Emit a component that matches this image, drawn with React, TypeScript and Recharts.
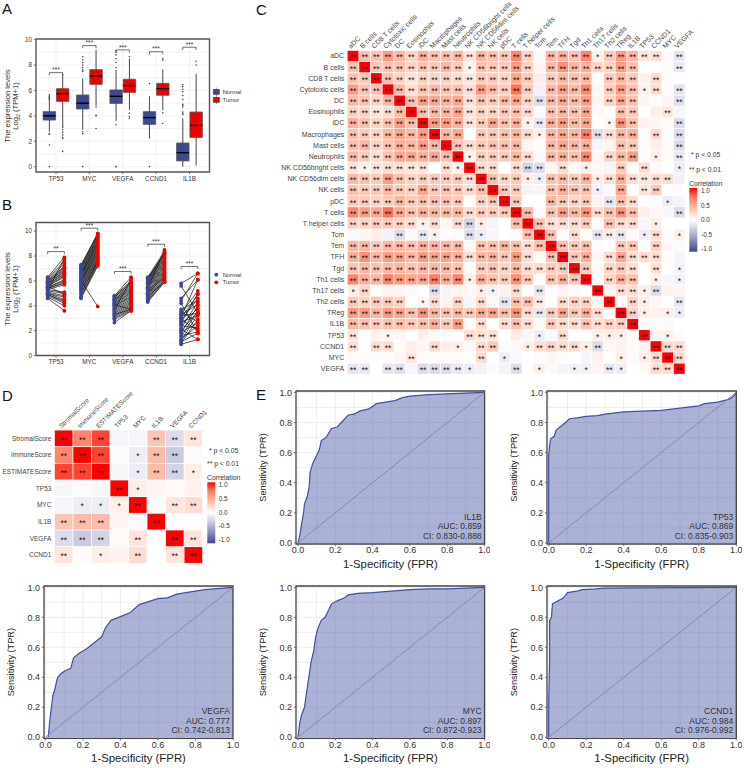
import {
  Area,
  CartesianGrid,
  ComposedChart,
  Line,
  ReferenceArea,
  ReferenceLine,
  Scatter,
  XAxis,
  YAxis,
} from 'recharts'

const FONT = '"Liberation Sans", Arial, sans-serif'
const BLUE = '#3b4992'
const RED = '#ee0000'

// panel A: boxplot summaries, order follows boxGenes
const boxGenes = ['TP53', 'MYC', 'VEGFA', 'CCND1', 'IL1B']
const normalLow = [2.75, 2.9, 3.6, 2.2, 0]
const normalQ1 = [3.67, 4.54, 4.98, 3.33, 0.45]
const normalMedian = [4.0, 5.0, 5.54, 3.86, 1.1]
const normalQ3 = [4.33, 5.64, 6.04, 4.33, 1.86]
const normalHigh = [5.6, 6.95, 7.6, 5.55, 3.8]
const tumorLow = [3.65, 4.8, 4.45, 4.45, 0.1]
const tumorQ1 = [5.14, 6.48, 5.85, 5.62, 2.3]
const tumorMedian = [5.75, 7.14, 6.38, 6.14, 3.25]
const tumorQ3 = [6.14, 7.64, 6.88, 6.56, 4.3]
const tumorHigh = [7.3, 9.2, 8.5, 7.65, 7.3]
const normalOutliers = [
  [5.65, 5.5, 5.4, 5.3, 2.6, 2.55, 1.7, 0],
  [8.65, 8.4, 8.2, 8.0, 7.8, 7.6, 7.5, 2.75, 2.6, 0],
  [7.8, 8.2, 8.5, 8.8, 9.0, 9.1, 3.3, 0],
  [6.55, 0],
  [4.1, 4.2, 4.3, 4.7, 4.8, 4.9, 5.3, 5.6, 5.9, 6.1, 6.3, 6.45],
]
const tumorOutliers = [
  [3.6, 3.45, 3.3, 3.2, 3.1, 2.9, 2.7, 2.5, 2.3, 2.2, 1.2],
  [4.7, 4.05, 4.0, 3.0],
  [8.65, 4.2, 3.95, 3.8],
  [8.4, 8.5, 4.25, 3.4],
  [8.0, 8.3],
]
const boxSigHeights = [7.4, 9.53, 9.19, 9.05, 9.4]
const boxSigLabels = ['***', '***', '***', '***', '***']

// panel B: paired samples, one list per gene
const pairedNormal = [
  [4.6, 4.7, 4.8, 4.9, 5.0, 5.0, 5.1, 5.2, 5.3, 5.3, 5.4, 5.4, 5.5, 5.5, 5.6, 5.6, 5.7, 5.7, 5.8, 5.8, 5.9, 5.9, 6.0, 6.0, 6.1, 6.2, 6.3, 5.2, 4.9, 5.6],
  [4.6, 4.7, 4.8, 5.0, 5.2, 5.3, 5.4, 5.5, 5.6, 5.7, 5.8, 5.9, 6.0, 6.0, 6.1, 6.2, 6.3, 6.4, 6.5, 6.5, 6.6, 6.7, 6.8, 6.9, 7.0, 7.1, 7.2, 7.3, 6.0, 5.0],
  [2.65, 2.9, 3.0, 3.1, 3.2, 3.3, 3.4, 3.5, 3.6, 3.7, 3.8, 3.9, 4.0, 4.0, 4.1, 4.2, 4.2, 4.3, 4.4, 4.4, 4.5, 4.5, 4.6, 4.7, 4.7, 4.8, 4.8, 3.6, 3.3, 4.1],
  [4.3, 4.4, 4.5, 4.6, 4.7, 4.8, 4.9, 5.0, 5.1, 5.1, 5.2, 5.3, 5.4, 5.5, 5.5, 5.6, 5.7, 5.8, 5.8, 5.9, 6.0, 6.0, 6.1, 6.2, 6.2, 6.3, 5.4, 4.7, 6.1, 5.0],
  [0.9, 1.0, 1.1, 1.2, 1.3, 1.5, 1.6, 1.8, 1.9, 2.0, 2.1, 2.2, 2.4, 2.5, 2.6, 2.7, 2.8, 2.9, 3.0, 3.1, 3.2, 3.3, 3.4, 3.5, 3.7, 4.2, 4.4, 4.6, 5.6, 5.8],
]
const pairedTumor = [
  [3.6, 4.0, 4.2, 4.4, 4.5, 4.7, 4.8, 5.0, 5.1, 5.7, 5.8, 5.9, 6.0, 6.1, 6.3, 6.4, 6.5, 6.6, 6.7, 6.8, 6.9, 7.0, 7.1, 7.2, 7.4, 7.6, 7.9, 7.8, 4.3, 4.9],
  [7.2, 7.3, 7.4, 7.5, 7.6, 7.7, 7.8, 7.9, 8.0, 8.1, 8.2, 8.3, 8.4, 8.5, 8.6, 8.7, 8.8, 8.9, 9.0, 9.1, 9.2, 9.3, 9.4, 9.5, 9.6, 9.7, 9.8, 9.8, 3.95, 7.6],
  [3.6, 3.6, 3.7, 3.8, 3.9, 4.0, 4.1, 4.2, 4.3, 4.4, 4.5, 4.6, 4.7, 4.8, 4.9, 5.0, 5.1, 5.2, 5.3, 5.4, 5.5, 5.6, 5.7, 5.8, 5.9, 6.0, 6.3, 6.2, 3.7, 3.7],
  [5.9, 5.9, 6.0, 6.1, 6.2, 6.3, 6.4, 6.5, 6.6, 6.7, 6.8, 6.9, 7.0, 7.1, 7.2, 7.3, 7.4, 7.5, 7.6, 7.7, 7.8, 7.9, 8.0, 8.1, 8.2, 8.4, 8.5, 6.0, 8.3, 6.4],
  [1.3, 2.9, 1.8, 3.3, 2.4, 3.6, 1.9, 4.0, 2.6, 3.5, 1.3, 4.3, 2.2, 3.8, 5.0, 3.2, 4.6, 2.0, 4.9, 6.1, 3.4, 4.1, 5.2, 2.7, 4.4, 1.8, 6.6, 6.1, 3.4, 6.6],
]
const pairSigHeights = [8.36, 10.24, 6.76, 8.95, 7.16]
const pairSigLabels = ['**', '***', '***', '***', '***']

// panel C: lower triangle of the correlation matrix, in percent
const immuneLabels = [
  'aDC', 'B cells', 'CD8 T cells', 'Cytotoxic cells', 'DC', 'Eosinophils', 'iDC', 'Macrophages',
  'Mast cells', 'Neutrophils', 'NK CD56bright cells', 'NK CD56dim cells', 'NK cells', 'pDC',
  'T cells', 'T helper cells', 'Tcm', 'Tem', 'TFH', 'Tgd', 'Th1 cells', 'Th17 cells', 'Th2 cells',
  'TReg', 'IL1B', 'TP53', 'CCND1', 'MYC', 'VEGFA',
]
const immuneCorr = [
  [],
  [35],
  [35, 30],
  [55, 35, 35],
  [40, 35, 25, 40],
  [25, 25, 15, 20, 35],
  [45, 35, 25, 35, 55, 35],
  [35, 30, 25, 40, 50, 40, 55],
  [35, 40, 25, 35, 45, 40, 55, 40],
  [40, 30, 20, 35, 50, 50, 45, 50, 35],
  [15, 7, 15, 20, 17, 15, 15, 0, 20, 7],
  [40, 35, 30, 55, 35, 25, 30, 30, 30, 30, 20],
  [35, 30, 30, 40, 30, 25, 50, 30, 35, 30, 20, 35],
  [30, 30, 25, 30, 40, 30, 35, 35, 35, 30, 0, 25, 30],
  [65, 55, 50, 75, 50, 35, 45, 40, 40, 40, 20, 30, 30, 30],
  [25, 25, 30, 30, 25, 20, 7, 20, 5, 20, -25, 10, -6, 0, 35],
  [-3, 5, 10, -8, -20, -3, -13, 7, 2, -3, -20, -10, -5, 0, 3, 35],
  [40, 40, 30, 40, 40, 35, 45, 40, 40, 40, 5, 35, 35, 40, 35, 18, 35],
  [45, 60, 40, 55, 50, 40, 55, 50, 50, 45, 20, 40, 45, 30, 55, 18, 2, 35],
  [35, 40, 35, 40, 40, 35, 40, 40, 40, 35, 3, 30, 35, 25, 40, 20, 20, 30, 30],
  [65, 45, 40, 65, 55, 50, 50, 70, 45, 65, 10, 45, 35, 30, 60, 30, 2, 35, 45, 30],
  [10, 25, 2, 6, 5, 4, 0, -20, -5, 5, 5, 10, -8, 7, 20, -2, -15, -2, 5, -3, 0],
  [30, 25, 30, 30, 25, 0, 5, 20, 8, 25, -5, 20, -3, -15, 35, 35, 10, 0, 20, 25, 25, 5],
  [55, 55, 40, 55, 50, 35, 60, 40, 35, 40, 30, 45, 50, 35, 60, 20, -13, 30, 50, 30, 45, 20, 3],
  [40, 35, 30, 35, 35, 30, 35, 45, 30, 55, 3, 20, 0, 20, 35, 20, 3, 30, 20, 20, 35, 20, 25, 25],
  [15, 0, 8, 8, 5, 0, 7, -2, -3, 2, 20, 15, 15, 0, 10, -5, -10, -3, 20, 0, 0, 10, 10, 10, 3],
  [18, 0, 20, 20, 2, 10, 5, 20, 10, 10, 4, 20, 30, -2, 5, 10, 20, 25, 20, 20, 10, -20, 5, 7, 3, 7],
  [3, 3, 2, 2, 5, 15, 3, 2, 3, 3, 0, 20, 0, -10, -4, 0, -2, 5, 2, 0, -5, 7, 0, 10, -3, 10, 20],
  [-15, -13, 0, -15, -17, -5, -20, -20, -20, -13, -10, -8, -2, -7, -20, 0, 10, -3, -6, -8, -8, 5, -13, -10, 0, 3, 20, 20],
]
// 2 = **, 1 = *, 0 = nothing
const immuneStars = [
  '',
  '2',
  '22',
  '222',
  '2222',
  '22222',
  '222222',
  '2222222',
  '22222222',
  '222222222',
  '2122222021',
  '22222222222',
  '222222222222',
  '2222222222022',
  '22222222222222',
  '222222120221002',
  '0000202100210002',
  '22222222220222222',
  '222222222222222202',
  '2222222222022222222',
  '22222222221222220222',
  '120000020001102020000',
  '2222201202020222202220',
  '22222222222222222222220',
  '222222222202022202222222',
  '2001000000222000102001110',
  '20220002010220012222120000',
  '000002000002010000000001012',
  '2202202222100020100110210022',
]

// panel D: full matrix, in percent
const scoreLabels = ['StromalScore', 'ImmuneScore', 'ESTIMATEScore', 'TP53', 'MYC', 'IL1B', 'VEGFA', 'CCND1']
const scoreCorr = [
  [100, 65, 85, -5, -5, 33, -20, 15],
  [65, 100, 85, -2, -10, 38, -30, 2],
  [85, 85, 100, -4, -10, 38, -25, 10],
  [-5, -2, -4, 100, 10, 6, 3, 7],
  [-5, -10, -10, 10, 100, -3, 15, 20],
  [33, 38, 38, 6, -3, 100, 0, 0],
  [-20, -30, -25, 3, 15, 0, 100, 15],
  [15, 2, 10, 7, 20, 0, 15, 100],
]
const scoreStars = ['22200222', '22201220', '22201221', '00021000', '01112022', '22200200', '22202022', '20102022']

// panel E: ROC curves
const il1bFpr = [0, 0.01, 0.02, 0.03, 0.035, 0.05, 0.06, 0.065, 0.08, 0.1, 0.115, 0.125, 0.15, 0.18, 0.21, 0.24, 0.27, 0.3, 0.33, 0.38, 0.42, 0.47, 0.52, 0.56, 0.6, 0.7, 0.8, 0.9, 1]
const il1bTpr = [0, 0.05, 0.13, 0.2, 0.26, 0.31, 0.37, 0.47, 0.53, 0.58, 0.62, 0.68, 0.7, 0.76, 0.77, 0.81, 0.85, 0.855, 0.875, 0.89, 0.925, 0.935, 0.945, 0.965, 0.975, 0.985, 0.99, 0.995, 1]
const tp53Fpr = [0, 0, 0.005, 0.01, 0.03, 0.04, 0.06, 0.09, 0.11, 0.15, 0.2, 0.26, 0.3, 0.4, 0.5, 0.6, 0.7, 0.8, 0.83, 0.9, 0.95, 0.97, 0.99, 1]
const tp53Tpr = [0, 0.58, 0.64, 0.69, 0.71, 0.75, 0.77, 0.8, 0.825, 0.83, 0.84, 0.845, 0.855, 0.87, 0.875, 0.88, 0.895, 0.91, 0.925, 0.935, 0.95, 0.96, 0.98, 1]
const vegfaFpr = [0.015, 0.025, 0.04, 0.05, 0.065, 0.08, 0.1, 0.135, 0.15, 0.18, 0.22, 0.25, 0.28, 0.3, 0.32, 0.35, 0.4, 0.45, 0.5, 0.55, 0.6, 0.65, 0.7, 0.75, 0.8, 0.85, 0.9, 1]
const vegfaTpr = [0, 0.13, 0.28, 0.32, 0.4, 0.42, 0.44, 0.46, 0.53, 0.56, 0.59, 0.62, 0.65, 0.67, 0.73, 0.78, 0.805, 0.83, 0.885, 0.905, 0.925, 0.93, 0.955, 0.965, 0.975, 0.985, 0.99, 1]
const mycFpr = [0, 0.01, 0.02, 0.035, 0.05, 0.07, 0.085, 0.095, 0.105, 0.125, 0.145, 0.165, 0.18, 0.21, 0.25, 0.27, 0.32, 0.4, 0.5, 0.6, 0.7, 0.8, 0.9, 1]
const mycTpr = [0, 0.1, 0.15, 0.2, 0.33, 0.5, 0.58, 0.67, 0.72, 0.78, 0.8, 0.85, 0.89, 0.91, 0.93, 0.95, 0.96, 0.965, 0.975, 0.985, 0.99, 0.99, 0.995, 1]
const ccnd1Fpr = [0, 0, 0.005, 0.005, 0.015, 0.02, 0.05, 0.08, 0.1, 0.15, 0.18, 0.25, 0.3, 0.5, 1]
const ccnd1Tpr = [0, 0.23, 0.5, 0.78, 0.8, 0.89, 0.91, 0.93, 0.965, 0.975, 0.985, 0.99, 0.995, 0.997, 1]

const posStops = ['#ffffff', '#ffd2c4', '#ffa58e', '#ff7256', '#ff0000']
const negStops = ['#ffffff', '#d3d3e6', '#a5a8cc', '#7379b0', '#3b4992']

type Rect = { l: number; t: number; r: number; b: number }

function mix(a: string, b: string, f: number) {
  const parse = (s: string) => [1, 3, 5].map((i) => parseInt(s.slice(i, i + 2), 16))
  const pa = parse(a)
  const pb = parse(b)
  return `rgb(${pa.map((v, i) => Math.round(v + (pb[i] - v) * f)).join(',')})`
}

function corrColor(pct: number) {
  const stops = pct < 0 ? negStops : posStops
  const at = (Math.abs(pct) / 100) * (stops.length - 1)
  const i = Math.min(Math.floor(at), stops.length - 2)
  return mix(stops[i], stops[i + 1], at - i)
}

function marginsFor(box: Rect, plot: Rect, yW: number, xH: number, xTop = false) {
  return {
    top: plot.t - box.t - (xTop ? xH : 0),
    left: plot.l - box.l - yW,
    right: box.r - plot.r,
    bottom: box.b - plot.b - (xTop ? 0 : xH),
  }
}

function place(box: Rect) {
  return { position: 'absolute' as const, left: box.l, top: box.t }
}

const geneTick = { fontSize: 6.4, fill: '#333', fontFamily: FONT }

function dotShape(r: number, fill: string) {
  return (p: any) => <circle cx={p.cx} cy={p.cy} r={r} fill={fill} />
}

function starShape(size: number) {
  return (p: any) => (
    <text x={p.cx} y={p.cy} textAnchor="middle" fontSize={size} fontFamily={FONT} fill="#333">
      {p.payload.label}
    </text>
  )
}

function bracketLines(i: number, h: number, drop: number, half: number) {
  const c = i + 1
  return [
    <ReferenceLine key={`a${i}`} segment={[{ x: c - half, y: h }, { x: c + half, y: h }]} stroke="#333" strokeWidth={0.7} />,
    <ReferenceLine key={`b${i}`} segment={[{ x: c - half, y: h }, { x: c - half, y: h - drop }]} stroke="#333" strokeWidth={0.7} />,
    <ReferenceLine key={`c${i}`} segment={[{ x: c + half, y: h }, { x: c + half, y: h - drop }]} stroke="#333" strokeWidth={0.7} />,
  ]
}

function boxMarks(i: number, side: number, low: number, q1: number, med: number, q3: number, high: number, fill: string) {
  const x = i + 1 + side * 0.2
  const half = 0.186
  return [
    <ReferenceLine key={`w${i}${side}a`} segment={[{ x, y: low }, { x, y: q1 }]} stroke="#333" strokeWidth={0.9} />,
    <ReferenceLine key={`w${i}${side}b`} segment={[{ x, y: q3 }, { x, y: high }]} stroke="#333" strokeWidth={0.9} />,
    <ReferenceArea key={`b${i}${side}`} x1={x - half} x2={x + half} y1={q1} y2={q3} fill={fill} fillOpacity={1} stroke="#555" strokeWidth={0.8} />,
    <ReferenceLine key={`m${i}${side}`} segment={[{ x: x - half, y: med }, { x: x + half, y: med }]} stroke="#000" strokeWidth={1.4} />,
  ]
}

function BoxPanel() {
  const box = { l: 0, t: 30, r: 212, b: 192 }
  const plot = { l: 36, t: 39, r: 209.5, b: 172 }
  const side = (lists: number[][], sign: number) =>
    lists.flatMap((ys, i) => ys.map((y) => ({ x: i + 1 + sign * 0.2, y })))
  const stars = boxSigHeights.map((h, i) => ({ x: i + 1, y: h + 0.02, label: boxSigLabels[i] }))
  return (
    <div style={place(box)}>
      <ComposedChart
        width={box.r - box.l}
        height={box.b - box.t}
        margin={marginsFor(box, plot, 30, 18)}
      >
        <CartesianGrid
          stroke="#ececec"
          strokeWidth={0.7}
          horizontalValues={[0, 1, 2, 3, 4, 5, 6, 7, 8, 9, 10]}
          verticalValues={[1, 2, 3, 4, 5]}
        />
        <XAxis
          dataKey="x"
          type="number"
          domain={[0.4, 5.6]}
          ticks={[1, 2, 3, 4, 5]}
          interval={0}
          tickFormatter={(v: number) => boxGenes[v - 1]}
          tick={geneTick}
          tickSize={2}
          tickMargin={2}
          axisLine={false}
          height={18}
        />
        <YAxis
          dataKey="y"
          type="number"
          domain={[-0.42, 10.05]}
          ticks={[0, 2, 4, 6, 8, 10]}
          interval={0}
          tick={geneTick}
          tickSize={2}
          tickMargin={2}
          axisLine={false}
          width={30}
        />
        {boxGenes.flatMap((_, i) => [
          ...boxMarks(i, -1, normalLow[i], normalQ1[i], normalMedian[i], normalQ3[i], normalHigh[i], BLUE),
          ...boxMarks(i, 1, tumorLow[i], tumorQ1[i], tumorMedian[i], tumorQ3[i], tumorHigh[i], RED),
          ...bracketLines(i, boxSigHeights[i], 0.21, 0.2),
        ])}
        <Scatter data={side(normalOutliers, -1)} dataKey="y" shape={dotShape(0.8, '#444')} isAnimationActive={false} />
        <Scatter data={side(tumorOutliers, 1)} dataKey="y" shape={dotShape(0.8, '#444')} isAnimationActive={false} />
        <Scatter data={stars} dataKey="y" shape={starShape(6.5)} isAnimationActive={false} />
        <ReferenceArea x1={0.4} x2={5.6} y1={-0.42} y2={10.05} fill="none" stroke="#555" strokeWidth={1.4} />
      </ComposedChart>
    </div>
  )
}

function PairPanel() {
  const box = { l: 0, t: 214, r: 212, b: 376 }
  const plot = { l: 36, t: 222.5, r: 209.5, b: 355.5 }
  const segments = pairedNormal.flatMap((ys, g) =>
    ys.flatMap((y, k) => [
      { x: g + 0.75, y },
      { x: g + 1.25, y: pairedTumor[g][k] },
      { x: g + 1.25, y: null },
    ]),
  )
  const normals = pairedNormal.flatMap((ys, g) => ys.map((y) => ({ x: g + 0.75, y })))
  const tumors = pairedTumor.flatMap((ys, g) => ys.map((y) => ({ x: g + 1.25, y })))
  const stars = pairSigHeights.map((h, i) => ({ x: i + 1, y: h + 0.02, label: pairSigLabels[i] }))
  return (
    <div style={place(box)}>
      <ComposedChart
        width={box.r - box.l}
        height={box.b - box.t}
        margin={marginsFor(box, plot, 30, 18)}
      >
        <CartesianGrid
          stroke="#ececec"
          strokeWidth={0.7}
          horizontalValues={[0, 1, 2, 3, 4, 5, 6, 7, 8, 9, 10]}
          verticalValues={[1, 2, 3, 4, 5]}
        />
        <XAxis
          dataKey="x"
          type="number"
          domain={[0.4, 5.6]}
          ticks={[1, 2, 3, 4, 5]}
          interval={0}
          tickFormatter={(v: number) => boxGenes[v - 1]}
          tick={geneTick}
          tickSize={2}
          tickMargin={2}
          axisLine={false}
          height={18}
        />
        <YAxis
          dataKey="y"
          type="number"
          domain={[0, 10.7]}
          ticks={[0, 2, 4, 6, 8, 10]}
          interval={0}
          tick={geneTick}
          tickSize={2}
          tickMargin={2}
          axisLine={false}
          width={30}
        />
        <Line
          data={segments}
          dataKey="y"
          type="linear"
          stroke="#111"
          strokeWidth={0.7}
          dot={false}
          connectNulls={false}
          isAnimationActive={false}
        />
        <Scatter data={normals} dataKey="y" shape={dotShape(1.9, BLUE)} isAnimationActive={false} />
        <Scatter data={tumors} dataKey="y" shape={dotShape(1.9, RED)} isAnimationActive={false} />
        {pairSigHeights.flatMap((h, i) => bracketLines(i, h, 0.2, 0.25))}
        <Scatter data={stars} dataKey="y" shape={starShape(6.5)} isAnimationActive={false} />
        <ReferenceArea x1={0.4} x2={5.6} y1={0} y2={10.7} fill="none" stroke="#555" strokeWidth={1.4} />
      </ComposedChart>
    </div>
  )
}

type HeatProps = {
  labels: string[]
  cells: { x: number; y: number; v: number; s: number }[]
  box: Rect
  plot: Rect
  fontSize: number
  starSize: number
  yW: number
  xH: number
}

function HeatMap({ labels, cells, box, plot, fontSize, starSize, yW, xH }: HeatProps) {
  const n = labels.length
  const cw = (plot.r - plot.l) / n
  const ch = (plot.b - plot.t) / n
  const ticks = labels.map((_, i) => i)
  const cellShape = (p: any) => {
    const { v, s } = p.payload
    return (
      <g>
        <rect x={p.cx - cw / 2 + 0.4} y={p.cy - ch / 2 + 0.4} width={cw - 0.8} height={ch - 0.8} fill={corrColor(v)} />
        {s > 0 ? (
          <text x={p.cx} y={p.cy + starSize * 0.52} textAnchor="middle" fontSize={starSize} fontFamily={FONT} fill="#111">
            {s === 2 ? '**' : '*'}
          </text>
        ) : null}
      </g>
    )
  }
  const topTick = (p: any) => (
    <text
      x={p.x - 2}
      y={p.y - 1.5}
      transform={`rotate(-45 ${p.x - 2} ${p.y - 1.5})`}
      fontSize={fontSize}
      fontFamily={FONT}
      fill="#444"
    >
      {labels[p.payload.value]}
    </text>
  )
  const leftTick = (p: any) => (
    <text x={p.x - 3} y={p.y + fontSize * 0.35} textAnchor="end" fontSize={fontSize} fontFamily={FONT} fill="#444">
      {labels[p.payload.value]}
    </text>
  )
  return (
    <div style={place(box)}>
      <ComposedChart
        width={box.r - box.l}
        height={box.b - box.t}
        margin={marginsFor(box, plot, yW, xH, true)}
      >
        <XAxis
          dataKey="x"
          type="number"
          orientation="top"
          domain={[-0.5, n - 0.5]}
          ticks={ticks}
          interval={0}
          tick={topTick}
          tickSize={0}
          tickMargin={0}
          tickLine={false}
          axisLine={false}
          height={xH}
        />
        <YAxis
          dataKey="y"
          type="number"
          reversed
          domain={[-0.5, n - 0.5]}
          ticks={ticks}
          interval={0}
          tick={leftTick}
          tickSize={0}
          tickMargin={0}
          tickLine={false}
          axisLine={false}
          width={yW}
        />
        <Scatter data={cells} dataKey="y" shape={cellShape} isAnimationActive={false} />
      </ComposedChart>
    </div>
  )
}

type RocProps = {
  name: string
  fpr: number[]
  tpr: number[]
  auc: string
  ci: string
  plot: Rect
  xMin: number
}

function RocPanel({ name, fpr, tpr, auc, ci, plot, xMin }: RocProps) {
  const box = { l: plot.l - 42, t: plot.t - 6, r: plot.r + 6, b: plot.b + 26 }
  const data = fpr.map((x, i) => ({ fpr: x, tpr: tpr[i] }))
  const gridValues = [0, 0.1, 0.2, 0.3, 0.4, 0.5, 0.6, 0.7, 0.8, 0.9, 1]
  const tickValues = [0, 0.2, 0.4, 0.6, 0.8, 1]
  const yMin = -0.007
  const yMax = 1.009
  return (
    <div style={place(box)}>
      <ComposedChart
        width={box.r - box.l}
        height={box.b - box.t}
        data={data}
        margin={marginsFor(box, plot, 42, 26)}
      >
        <CartesianGrid stroke="#e8e8e8" strokeWidth={0.8} horizontalValues={gridValues} verticalValues={gridValues} />
        <XAxis
          dataKey="fpr"
          type="number"
          domain={[xMin, 1]}
          ticks={tickValues}
          interval={0}
          tickFormatter={(v: number) => v.toFixed(1)}
          tick={{ fontSize: 9, fill: '#333', fontFamily: FONT }}
          tickSize={2}
          tickMargin={1}
          axisLine={false}
          height={26}
          label={{ value: '1-Specificity (FPR)', position: 'insideBottom', offset: 2, fontSize: 11.4, fill: '#222', fontFamily: FONT }}
        />
        <YAxis
          type="number"
          domain={[yMin, yMax]}
          ticks={tickValues}
          interval={0}
          tickFormatter={(v: number) => v.toFixed(1)}
          tick={{ fontSize: 9, fill: '#333', fontFamily: FONT }}
          tickSize={2}
          tickMargin={2}
          axisLine={false}
          width={42}
          label={{ value: 'Sensitivity (TPR)', angle: -90, position: 'insideLeft', offset: 9, fontSize: 9.2, fill: '#222', fontFamily: FONT, style: { textAnchor: 'middle' } }}
        />
        <Area
          dataKey="tpr"
          type="linear"
          stroke="#3f51a3"
          strokeWidth={1.2}
          fill="#4e5ca8"
          fillOpacity={0.47}
          isAnimationActive={false}
        />
        <ReferenceLine segment={[{ x: 0, y: 0 }, { x: 1, y: 1 }]} stroke="#7f86ad" strokeWidth={0.9} />
        <ReferenceArea x1={xMin} x2={1} y1={yMin} y2={yMax} fill="none" stroke="#444" strokeWidth={1.3} />
      </ComposedChart>
      <svg
        width={box.r - box.l}
        height={box.b - box.t}
        style={{ position: 'absolute', left: 0, top: 0, pointerEvents: 'none' }}
      >
        <g textAnchor="end" fontSize={8.5} fontFamily={FONT} fill="#333">
          <text x={plot.r - box.l - 3} y={plot.b - box.t - 24}>{name}</text>
          <text x={plot.r - box.l - 3} y={plot.b - box.t - 14.6}>{`AUC: ${auc}`}</text>
          <text x={plot.r - box.l - 3} y={plot.b - box.t - 5.2}>{`CI: ${ci}`}</text>
        </g>
      </svg>
    </div>
  )
}

function ColorBar({ id, x, top, bottom, labelYs, labelX }: { id: string; x: number; top: number; bottom: number; labelYs: number[]; labelX: number }) {
  const labels = ['1.0', '0.5', '0.0', '-0.5', '-1.0']
  const stops = [
    ...posStops.slice().reverse(),
    ...negStops.slice(1),
  ]
  return (
    <g>
      <defs>
        <linearGradient id={id} x1="0" y1="0" x2="0" y2="1">
          {stops.map((c, i) => (
            <stop key={i} offset={i / (stops.length - 1)} stopColor={c} />
          ))}
        </linearGradient>
      </defs>
      <rect x={x} y={top} width={8} height={bottom - top} fill={`url(#${id})`} />
      {labels.map((t, i) => (
        <text key={t} x={labelX} y={labelYs[i] + 2.3} fontSize={6.4} fontFamily={FONT} fill="#333">
          {t}
        </text>
      ))}
    </g>
  )
}

function Notes() {
  const txt = { fontFamily: FONT, fill: '#333' }
  return (
    <svg width={744} height={768} style={{ position: 'absolute', left: 0, top: 0, pointerEvents: 'none' }}>
      <g fontFamily={FONT} fontSize={15} fill="#111">
        <text x={2} y={14}>A</text>
        <text x={2} y={210}>B</text>
        <text x={256} y={15}>C</text>
        <text x={2} y={401}>D</text>
        <text x={256} y={400}>E</text>
      </g>
      {/* axis titles of A and B */}
      <g {...txt} fontSize={7.6} textAnchor="middle">
        <text transform="translate(10 106) rotate(-90)">The expression levels</text>
        <text transform="translate(18 106) rotate(-90)">
          Log<tspan fontSize={5.4} dy={1.5}>2</tspan><tspan dy={-1.5}> (TPM+1)</tspan>
        </text>
        <text transform="translate(10 289) rotate(-90)">The expression levels</text>
        <text transform="translate(18 289) rotate(-90)">
          Log<tspan fontSize={5.4} dy={1.5}>2</tspan><tspan dy={-1.5}> (TPM+1)</tspan>
        </text>
      </g>
      {/* legend A */}
      <g stroke="#444" strokeWidth={0.6}>
        <line x1={216.3} x2={216.3} y1={87.5} y2={96} />
        <rect x={213.3} y={89.3} width={6} height={5} fill={BLUE} />
        <line x1={216.3} x2={216.3} y1={95.5} y2={104} />
        <rect x={213.3} y={97.3} width={6} height={5} fill={RED} />
      </g>
      <g {...txt} fontSize={5.8}>
        <text x={222.7} y={93.8}>Normal</text>
        <text x={222.7} y={101.6}>Tumor</text>
      </g>
      {/* legend B */}
      <circle cx={216.3} cy={274.7} r={1.9} fill={BLUE} />
      <circle cx={216.3} cy={282.3} r={1.9} fill={RED} />
      <g {...txt} fontSize={5.8}>
        <text x={222.7} y={276.8}>Normal</text>
        <text x={222.7} y={284.4}>Tumor</text>
      </g>
      {/* legend C */}
      <g {...txt} fontSize={6.8}>
        <text x={691} y={157}>* p &lt; 0.05</text>
        <text x={689} y={171.5}>** p &lt; 0.01</text>
        <text x={689} y={186}>Correlation</text>
      </g>
      <ColorBar id="barC" x={689.3} top={188} bottom={251.7} labelX={701} labelYs={[191, 205.3, 220, 234.3, 248.7]} />
      {/* legend D */}
      <g {...txt} fontSize={6.8}>
        <text x={209} y={452.7}>* p &lt; 0.05</text>
        <text x={207} y={466.2}>** p &lt; 0.01</text>
        <text x={207} y={480}>Correlation</text>
      </g>
      <ColorBar id="barD" x={207.3} top={482.3} bottom={543.3} labelX={218.7} labelYs={[484.7, 498.3, 512.3, 526, 540]} />
    </svg>
  )
}

export default function App() {
  const immuneCells = immuneLabels.flatMap((_, y) =>
    immuneLabels.map((__, x) => {
      const hi = Math.max(x, y)
      const lo = Math.min(x, y)
      return x === y
        ? { x, y, v: 100, s: 2 }
        : { x, y, v: immuneCorr[hi][lo], s: Number(immuneStars[hi][lo]) }
    }),
  )
  const scoreCells = scoreCorr.flatMap((row, y) =>
    row.map((v, x) => ({ x, y, v, s: Number(scoreStars[y][x]) })),
  )
  // opacity just under 1 keeps the small text grey instead of colour-fringed
  return (
    <div style={{ position: 'absolute', left: 0, top: 0, width: 744, height: 768, background: '#fff', overflow: 'hidden', opacity: 0.999 }}>
      <BoxPanel />
      <PairPanel />
      <HeatMap
        labels={immuneLabels}
        cells={immuneCells}
        box={{ l: 270, t: 0, r: 700, b: 378 }}
        plot={{ l: 347.2, t: 50.4, r: 685.1, b: 374.3 }}
        fontSize={7}
        starSize={8.4}
        yW={72}
        xH={44}
      />
      <HeatMap
        labels={scoreLabels}
        cells={scoreCells}
        box={{ l: 0, t: 378, r: 220, b: 566 }}
        plot={{ l: 54.4, t: 430, r: 202.6, b: 563.3 }}
        fontSize={6.5}
        starSize={8.4}
        yW={52}
        xH={44}
      />
      <RocPanel name="IL1B" fpr={il1bFpr} tpr={il1bTpr} auc="0.859" ci="0.830-0.888" plot={{ l: 295.7, t: 391.3, r: 484.3, b: 544.3 }} xMin={-0.0105} />
      <RocPanel name="TP53" fpr={tp53Fpr} tpr={tp53Tpr} auc="0.869" ci="0.835-0.903" plot={{ l: 546.7, t: 391.3, r: 736, b: 544.3 }} xMin={-0.009} />
      <RocPanel name="VEGFA" fpr={vegfaFpr} tpr={vegfaTpr} auc="0.777" ci="0.742-0.813" plot={{ l: 44.3, t: 586, r: 233.3, b: 738.3 }} xMin={-0.0075} />
      <RocPanel name="MYC" fpr={mycFpr} tpr={mycTpr} auc="0.897" ci="0.872-0.923" plot={{ l: 295.7, t: 586, r: 484.3, b: 738.3 }} xMin={-0.0105} />
      <RocPanel name="CCND1" fpr={ccnd1Fpr} tpr={ccnd1Tpr} auc="0.984" ci="0.976-0.992" plot={{ l: 546.7, t: 586, r: 736, b: 738.3 }} xMin={-0.009} />
      <Notes />
    </div>
  )
}
